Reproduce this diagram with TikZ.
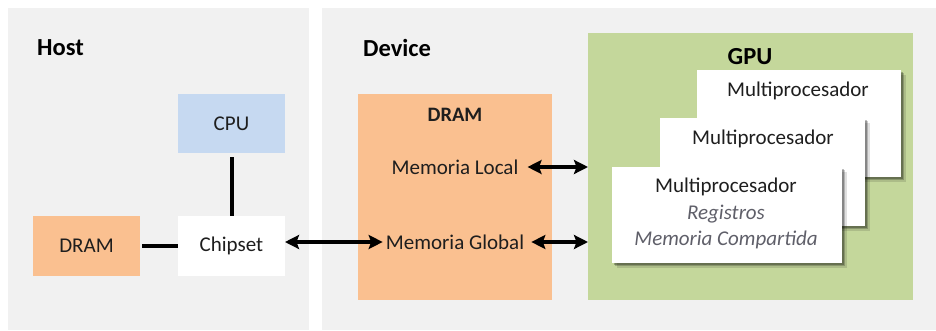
\documentclass[tikz,border=0pt]{standalone}
\usepackage{fontspec}
\setmainfont{Carlito}
\usetikzlibrary{arrows.meta,shadows}
\definecolor{panelgray}{RGB}{241,241,241}
\definecolor{cpublue}{RGB}{198,217,241}
\definecolor{dramorange}{RGB}{250,192,144}
\definecolor{gpugreen}{RGB}{196,215,155}
\definecolor{txt}{RGB}{30,30,30}
\definecolor{itgray}{RGB}{95,95,105}
\begin{document}
\begin{tikzpicture}[x=1pt,y=-1pt,
  box/.style={inner sep=0pt, outer sep=0pt, text=txt, font=\fontsize{21}{25}\selectfont},
  mp/.style={box, fill=white, align=center,
    drop shadow={shadow xshift=4.5pt, shadow yshift=-4.5pt, opacity=0.12, fill=black},
    drop shadow={shadow xshift=3pt, shadow yshift=-3pt, opacity=0.2, fill=black},
    drop shadow={shadow xshift=1.5pt, shadow yshift=-1.5pt, opacity=0.25, fill=black}},
  title/.style={inner sep=0pt, font=\fontsize{24.5}{28}\selectfont\bfseries, text=black},
  lbl/.style={inner sep=0pt, text=txt, font=\fontsize{21}{25}\selectfont},
  link/.style={line width=4pt, black},
  arr/.style={line width=3.2pt, black, {Stealth[length=14pt,width=14pt,inset=2.5pt]}-{Stealth[length=14pt,width=14pt,inset=2.5pt]}}
]
\useasboundingbox (0,0) rectangle (936,330);
\fill[white] (0,0) rectangle (936,330);
% panels
\fill[panelgray] (8,8) rectangle (309,330);
\fill[panelgray] (322,8) rectangle (936,330);
\node[title, anchor=west] (host) at (37,48) {Host};
\node[title, anchor=west] (device) at (363,48) {Device};
% host
\node[box, fill=cpublue, minimum width=107pt, minimum height=59pt] (cpu) at (231.5,123.5) {CPU};
\node[box, fill=white, minimum width=107pt, minimum height=60pt] (chipset) at (231.5,246) {Chipset};
\node[box, fill=dramorange, minimum width=107pt, minimum height=60pt] (hdram) at (86.5,246) {DRAM};
\draw[link] ([yshift=-4pt]cpu.south) -- (chipset.north);
\draw[link] ([xshift=2pt]hdram.east) -- (chipset.west);
% device dram
\node[box, fill=dramorange, minimum width=194pt, minimum height=206pt] (ddram) at (455,197) {};
\node[inner sep=0pt, font=\fontsize{20.5}{24}\selectfont\bfseries, text=txt] (ddramt) at (455,115) {DRAM};
\node[lbl] (mloc) at (455,167) {Memoria Local};
\node[lbl] (mglob) at (455,242) {Memoria Global};
% GPU
\node[box, fill=gpugreen, minimum width=325pt, minimum height=267pt] (gpu) at (750.5,166.5) {};
\node[title] (gput) at (750,57) {GPU};
\node[mp, minimum width=204pt, minimum height=107pt] (mp3) at (799,123.5) {};
\node[lbl] at (798,91) {Multiprocesador};
\node[mp, minimum width=205pt, minimum height=108pt] (mp2) at (762.5,172) {};
\node[lbl] at (763,139) {Multiprocesador};
\node[mp, minimum width=230pt, minimum height=96pt] (mp1) at (727,215) {};
\node[lbl] (mp1t) at (726,187) {Multiprocesador};
\node[lbl, text=itgray, font=\fontsize{21}{25}\selectfont\itshape] (reg) at (726,214) {Registros};
\node[lbl, text=itgray, font=\fontsize{21}{25}\selectfont\itshape] (mcomp) at (726,240) {Memoria Compartida};
% arrows
\draw[arr] (chipset.east |- mglob) -- ([xshift=-3pt]mglob.west);
\draw[arr] ([xshift=9pt]mloc.east) -- (gpu.west |- mloc);
\draw[arr] ([xshift=7pt]mglob.east) -- (gpu.west |- mglob);
\end{tikzpicture}
\end{document}
